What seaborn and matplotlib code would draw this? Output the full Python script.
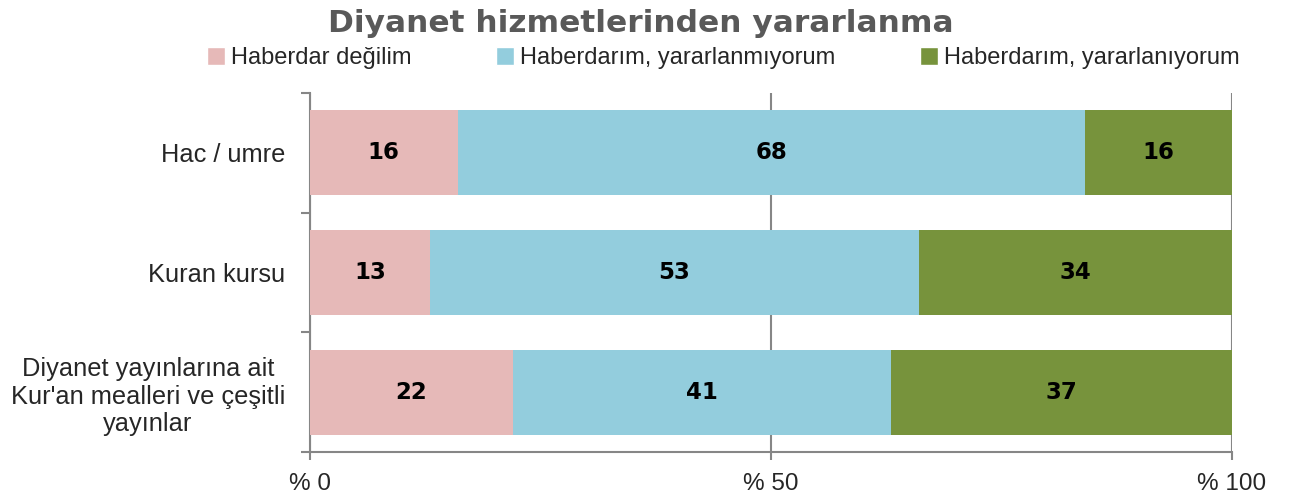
import numpy as np
import pandas as pd
import seaborn as sns
import matplotlib.pyplot as plt
from matplotlib.patches import Patch

categories = ["Hac / umre", "Kuran kursu", "Diyanet yayınlarına ait\nKur'an mealleri ve çeşitli\nyayınlar"]
series_names = ["Haberdar değilim", "Haberdarım, yararlanmıyorum", "Haberdarım, yararlanıyorum"]
haberdar_degil = [16, 13, 22]
yararlanmiyor = [68, 53, 41]
yararlaniyor = [16, 34, 37]
colors = ["#E6B9B8", "#93CDDD", "#77933C"]
x_ticks = [0, 50, 100]
x_tick_labels = ["% 0", "% 50", "% 100"]

sns.set_theme(style="white")
plt.rcParams['font.family'] = ['Liberation Sans', 'DejaVu Sans']

df = pd.DataFrame({"cat": categories,
                   "s1": haberdar_degil,
                   "s2": yararlanmiyor,
                   "s3": yararlaniyor})
df["c1"] = df["s1"]
df["c2"] = df["s1"] + df["s2"]
df["c3"] = df["c2"] + df["s3"]

fig = plt.figure(figsize=(12.89, 4.97), dpi=100)
ax = fig.add_axes([0.2405, 0.0905, 0.7153, 0.7224])

# draw cumulative totals back to front to get a stacked look
for col, color in zip(["c3", "c2", "c1"], colors[::-1]):
    sns.barplot(data=df, x=col, y="cat", orient="h", color=color, width=0.71,
                saturation=1, ax=ax, zorder=3, linewidth=0)

# value labels
starts = [np.zeros(3), df["c1"].values, df["c2"].values]
for vals, st in zip([haberdar_degil, yararlanmiyor, yararlaniyor], starts):
    for i, v in enumerate(vals):
        ax.text(st[i] + v / 2, i, str(v), ha="center", va="center",
                fontsize=16.5, fontweight="bold", color="black",
                family="DejaVu Sans", zorder=5)

ax.set_xlim(0, 100)
ax.set_ylim(2.5, -0.5)
ax.set_xticks(x_ticks)
ax.set_xticklabels(x_tick_labels, fontsize=17.5)
ax.set_yticks([-0.5, 0.5, 1.5, 2.5])
ax.set_yticklabels([])
ax.set_yticks([0, 1, 2], minor=True)
ax.set_yticklabels(categories, minor=True, fontsize=18.3, ha="right",
                   multialignment="center", linespacing=1.2)
ax.tick_params(axis="y", which="minor", length=0, pad=18)
ax.tick_params(axis="y", which="major", length=6.5, width=1.5, color="#868686", left=True)
ax.tick_params(axis="x", length=6, width=1.5, color="#868686", bottom=True, pad=9)
ax.set_xlabel("")
ax.set_ylabel("")

ax.xaxis.grid(True, color="#868686", linewidth=1.5, zorder=0)
ax.set_axisbelow(True)
for s in ["top", "right"]:
    ax.spines[s].set_visible(False)
for s in ["left", "bottom"]:
    ax.spines[s].set_color("#868686")
    ax.spines[s].set_linewidth(1.5)

fig.text(0.497, 0.953, "Diyanet hizmetlerinden yararlanma", ha="center", va="center",
         fontsize=22.5, fontweight="bold", color="#595959", family="DejaVu Sans")

handles = [Patch(facecolor=c, label=n) for c, n in zip(colors, series_names)]
fig.legend(handles=handles, loc="center", bbox_to_anchor=(0.561, 0.883), ncol=3,
           frameon=False, handlelength=0.75, handleheight=0.75, handletextpad=0.25,
           columnspacing=3.6, prop={"family": ["Liberation Sans", "DejaVu Sans"], "size": 17})

fig.savefig("out.png", dpi=100)
